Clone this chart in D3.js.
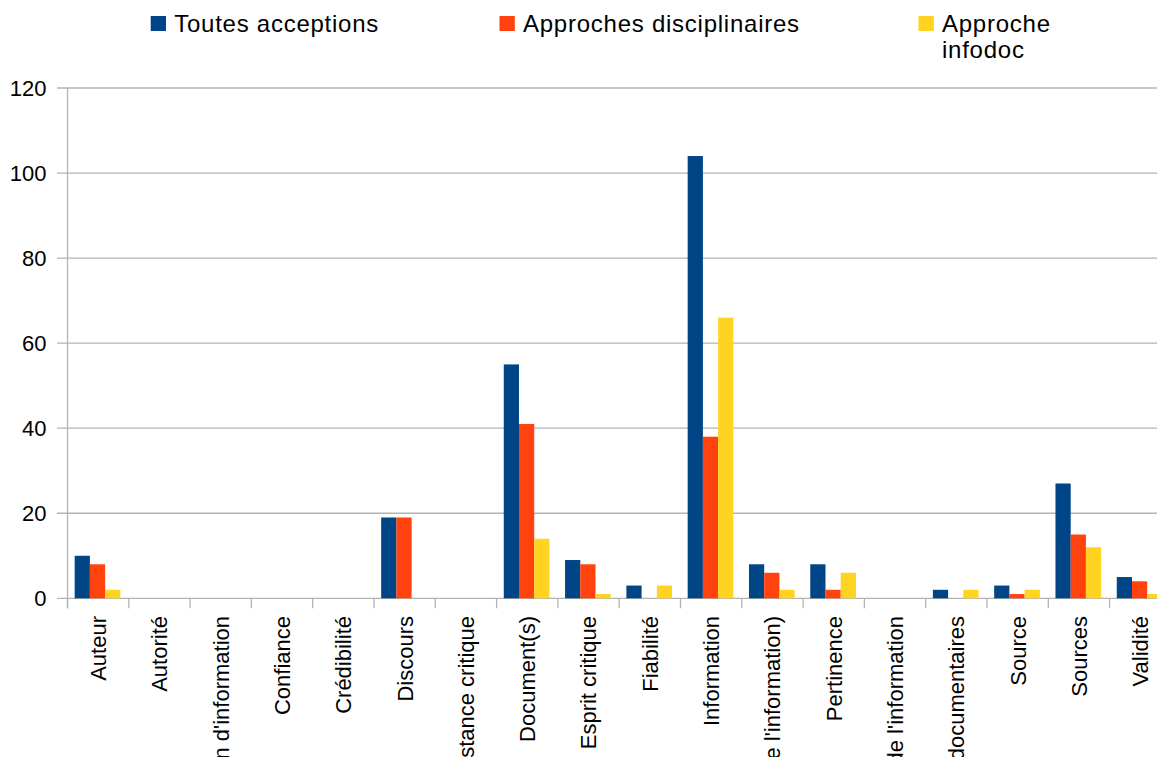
<!DOCTYPE html>
<html>
<head>
<meta charset="utf-8">
<script src="https://cdn.jsdelivr.net/npm/d3@7"></script>
<style>
  html, body { margin: 0; padding: 0; background: #fff; overflow: hidden; }
  svg { display: block; font-family: "Liberation Sans", Arial, sans-serif; }
</style>
</head>
<body>
<svg id="chart" width="1157" height="757"></svg>
<script>
const categories = ["Auteur", "Autorité", "Besoin d'information", "Confiance", "Crédibilité",
  "Discours", "Distance critique", "Document(s)", "Esprit critique", "Fiabilité",
  "Information", "Maîtrise (de l'information)", "Pertinence", "Qualité de l'information",
  "Ressources documentaires", "Source", "Sources", "Validité"];
const seriesNames = ["Toutes acceptions", "Approches disciplinaires", "Approche infodoc"];
const toutesAcceptions = [10, 0, 0, 0, 0, 19, 0, 55, 9, 3, 104, 8, 8, 0, 2, 3, 27, 5];
const approchesDisciplinaires = [8, 0, 0, 0, 0, 19, 0, 41, 8, 0, 38, 6, 2, 0, 0, 1, 15, 4];
const approcheInfodoc = [2, 0, 0, 0, 0, 0, 0, 14, 1, 3, 66, 2, 6, 0, 2, 2, 12, 1];
const yTicks = [0, 20, 40, 60, 80, 100, 120];
const colors = ["#004586", "#ff420e", "#ffd320"];

const seriesValues = [toutesAcceptions, approchesDisciplinaires, approcheInfodoc];
const rows = categories.map((c, i) => ({ cat: c, vals: seriesValues.map(s => s[i]) }));

const svg = d3.select("#chart");
const x0 = 67.5, step = 61.3;
const x = d3.scaleBand().domain(categories).range([x0, x0 + step * categories.length]).padding(0);
const bw = x.bandwidth();
const xs = d3.scaleBand().domain([0, 1, 2]).range([0.117 * bw, 0.862 * bw]).padding(0);
const y = d3.scaleLinear().domain([0, 120]).range([598.3, 88]);
const grid = "#b3b3b3";

// gridlines
svg.append("g").selectAll("line").data(yTicks).join("line")
  .attr("x1", 57).attr("x2", 1157)
  .attr("y1", d => y(d)).attr("y2", d => y(d))
  .attr("stroke", grid).attr("stroke-width", 1.3);

// y axis line
svg.append("line").attr("x1", x0).attr("x2", x0).attr("y1", y(120)).attr("y2", y(0) + 10)
  .attr("stroke", grid).attr("stroke-width", 1.3);

// x ticks at band boundaries
const boundaries = categories.map(c => x(c)).concat([x0 + step * categories.length]);
svg.append("g").selectAll("line").data(boundaries).join("line")
  .attr("x1", d => d).attr("x2", d => d)
  .attr("y1", y(0)).attr("y2", y(0) + 10)
  .attr("stroke", grid).attr("stroke-width", 1.3);

// y tick labels
svg.append("g").selectAll("text").data(yTicks).join("text")
  .attr("x", 46.5).attr("y", d => y(d)).attr("dy", "0.36em")
  .attr("text-anchor", "end").attr("font-size", 22).attr("fill", "#000")
  .text(d => d);

// bars
const groups = svg.append("g").selectAll("g").data(rows).join("g")
  .attr("transform", d => `translate(${x(d.cat)},0)`);
groups.selectAll("rect").data(d => d.vals.map((v, k) => ({ v, k }))).join("rect")
  .attr("x", d => xs(d.k)).attr("width", xs.bandwidth())
  .attr("y", d => y(d.v)).attr("height", d => y(0) - y(d.v))
  .attr("fill", d => colors[d.k]);

// x labels
svg.append("g").selectAll("text").data(categories).join("text")
  .attr("transform", d => `translate(${x(d) + bw / 2},616) rotate(-90)`)
  .attr("dy", "0.36em").attr("text-anchor", "end")
  .attr("font-size", 22).attr("fill", "#000")
  .text(d => d);

// legend
const legendX = [150.7, 499.5, 918.5];
const legendLines = [["Toutes acceptions"], ["Approches disciplinaires"], ["Approche", "infodoc"]];
const leg = svg.append("g").selectAll("g").data(seriesNames).join("g")
  .attr("transform", (d, i) => `translate(${legendX[i]},0)`);
leg.append("rect").attr("x", 0).attr("y", 16).attr("width", 15.3).attr("height", 15)
  .attr("fill", (d, i) => colors[i]);
leg.each(function (d, i) {
  const t = d3.select(this).append("text")
    .attr("font-size", 24).attr("letter-spacing", 0.75).attr("fill", "#000");
  legendLines[i].forEach((line, j) => {
    t.append("tspan").attr("x", 23.5).attr("y", 32.3 + j * 26).text(line);
  });
});
</script>
</body>
</html>
